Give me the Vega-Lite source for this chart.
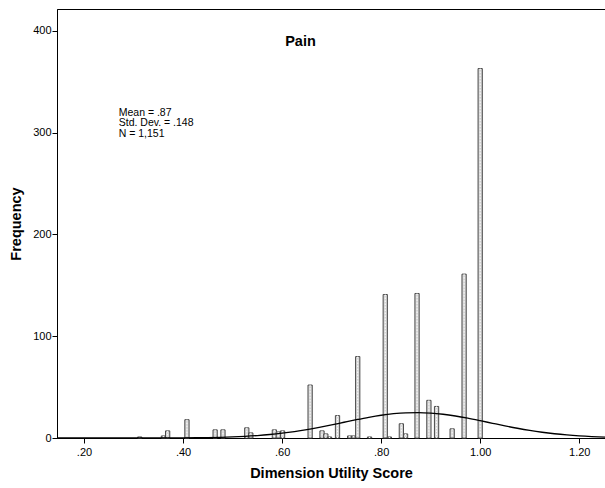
{
  "$schema": "https://vega.github.io/schema/vega-lite/v6.json",
  "width": 548,
  "height": 429,
  "autosize": {"type": "none"},
  "padding": {"left": 57, "top": 9, "right": 0, "bottom": 50},
  "background": "white",
  "config": {
    "font": "Liberation Sans",
    "view": {"stroke": "#000000", "strokeWidth": 1},
    "axis": {"grid": false, "domainColor": "#000000", "tickColor": "#000000", "labelColor": "#000000", "titleColor": "#000000", "labelFont": "Liberation Sans", "titleFont": "Liberation Sans", "labelFontSize": 11, "titleFontSize": 14.5, "titleFontWeight": "bold", "tickSize": 5, "domainWidth": 1, "tickWidth": 1}
  },
  "title": {"text": "Pain", "fontSize": 14.5, "fontWeight": "bold", "font": "Liberation Sans", "color": "#000000", "anchor": "middle", "dx": -30.5, "baseline": "alphabetic", "offset": -51},
  "datasets": {
    "bars": [
      {"x0": 0.3082, "x1": 0.3168, "c": 0.3125, "count": 1},
      {"x0": 0.3561, "x1": 0.3647, "c": 0.3604, "count": 2},
      {"x0": 0.3646, "x1": 0.3732, "c": 0.3689, "count": 7},
      {"x0": 0.4036, "x1": 0.4122, "c": 0.4079, "count": 18},
      {"x0": 0.4605, "x1": 0.4691, "c": 0.4648, "count": 8},
      {"x0": 0.4763, "x1": 0.4849, "c": 0.4806, "count": 8},
      {"x0": 0.5244, "x1": 0.5330, "c": 0.5287, "count": 10},
      {"x0": 0.5325, "x1": 0.5411, "c": 0.5368, "count": 5},
      {"x0": 0.5801, "x1": 0.5887, "c": 0.5844, "count": 8},
      {"x0": 0.5880, "x1": 0.5966, "c": 0.5923, "count": 6},
      {"x0": 0.5967, "x1": 0.6053, "c": 0.6010, "count": 7},
      {"x0": 0.6523, "x1": 0.6609, "c": 0.6566, "count": 52},
      {"x0": 0.6763, "x1": 0.6849, "c": 0.6806, "count": 7},
      {"x0": 0.6840, "x1": 0.6926, "c": 0.6883, "count": 4},
      {"x0": 0.6915, "x1": 0.7001, "c": 0.6958, "count": 1},
      {"x0": 0.7076, "x1": 0.7162, "c": 0.7119, "count": 22},
      {"x0": 0.7321, "x1": 0.7407, "c": 0.7364, "count": 2},
      {"x0": 0.7401, "x1": 0.7487, "c": 0.7444, "count": 2},
      {"x0": 0.7484, "x1": 0.7570, "c": 0.7527, "count": 80},
      {"x0": 0.7723, "x1": 0.7809, "c": 0.7766, "count": 1},
      {"x0": 0.8040, "x1": 0.8126, "c": 0.8083, "count": 141},
      {"x0": 0.8123, "x1": 0.8209, "c": 0.8166, "count": 1},
      {"x0": 0.8365, "x1": 0.8451, "c": 0.8408, "count": 14},
      {"x0": 0.8450, "x1": 0.8536, "c": 0.8493, "count": 4},
      {"x0": 0.8682, "x1": 0.8768, "c": 0.8725, "count": 142},
      {"x0": 0.8921, "x1": 0.9007, "c": 0.8964, "count": 37},
      {"x0": 0.9076, "x1": 0.9162, "c": 0.9119, "count": 31},
      {"x0": 0.9391, "x1": 0.9477, "c": 0.9434, "count": 9},
      {"x0": 0.9632, "x1": 0.9718, "c": 0.9675, "count": 161},
      {"x0": 0.9957, "x1": 1.0043, "c": 1.0, "count": 363}
    ],
    "curve": [
      {"x": 0.145, "y": 0.0002},
      {"x": 0.2, "y": 0.0009},
      {"x": 0.25, "y": 0.004},
      {"x": 0.3, "y": 0.015},
      {"x": 0.35, "y": 0.052},
      {"x": 0.4, "y": 0.161},
      {"x": 0.45, "y": 0.446},
      {"x": 0.475, "y": 0.71},
      {"x": 0.5, "y": 1.098},
      {"x": 0.525, "y": 1.65},
      {"x": 0.55, "y": 2.415},
      {"x": 0.575, "y": 3.43},
      {"x": 0.6, "y": 4.73},
      {"x": 0.625, "y": 6.35},
      {"x": 0.65, "y": 8.28},
      {"x": 0.675, "y": 10.49},
      {"x": 0.7, "y": 12.92},
      {"x": 0.725, "y": 15.47},
      {"x": 0.75, "y": 18.0},
      {"x": 0.775, "y": 20.35},
      {"x": 0.8, "y": 22.36},
      {"x": 0.825, "y": 23.87},
      {"x": 0.85, "y": 24.77},
      {"x": 0.875, "y": 24.99},
      {"x": 0.9, "y": 24.49},
      {"x": 0.925, "y": 23.33},
      {"x": 0.95, "y": 21.6},
      {"x": 0.975, "y": 19.44},
      {"x": 1.0, "y": 17.0},
      {"x": 1.025, "y": 14.45},
      {"x": 1.05, "y": 11.93},
      {"x": 1.075, "y": 9.58},
      {"x": 1.1, "y": 7.47},
      {"x": 1.125, "y": 5.66},
      {"x": 1.15, "y": 4.17},
      {"x": 1.175, "y": 2.99},
      {"x": 1.2, "y": 2.08},
      {"x": 1.225, "y": 1.41},
      {"x": 1.252, "y": 0.9}
    ]
  },
  "layer": [
    {
      "data": {"name": "bars"},
      "mark": {"type": "bar", "fill": "#d6d6d6", "stroke": "#4a4a4a", "strokeWidth": 1},
      "encoding": {
        "x": {"field": "x0", "type": "quantitative", "scale": {"domain": [0.1455, 1.252], "nice": false, "zero": false},
          "axis": {"values": [0.2, 0.4, 0.6, 0.8, 1.0, 1.2], "labelExpr": "replace(format(datum.value, '.2f'), '0.', '.')", "title": "Dimension Utility Score", "labelPadding": 3, "titlePadding": 9}},
        "x2": {"field": "x1"},
        "y": {"field": "count", "type": "quantitative", "scale": {"domain": [0, 421.5], "nice": false},
          "axis": {"values": [0, 100, 200, 300, 400], "title": "Frequency", "labelPadding": 1, "titlePadding": 9}},
        "y2": {"datum": 0}
      }
    },
    {
      "data": {"name": "bars"},
      "mark": {"type": "rule", "color": "#ffffff", "strokeWidth": 1, "strokeDash": [1.5, 1.5]},
      "encoding": {
        "x": {"field": "c", "type": "quantitative"},
        "y": {"field": "count", "type": "quantitative"},
        "y2": {"datum": 0}
      }
    },
    {
      "data": {"name": "curve"},
      "mark": {"type": "line", "color": "#000000", "strokeWidth": 1.3, "interpolate": "monotone", "clip": true},
      "encoding": {
        "x": {"field": "x", "type": "quantitative"},
        "y": {"field": "y", "type": "quantitative"}
      }
    },
    {
      "data": {"values": [{}]},
      "mark": {"type": "text", "text": ["Mean = .87", "Std. Dev. = .148", "N = 1,151"], "align": "left", "baseline": "top", "fontSize": 10.5, "lineHeight": 10.5, "font": "Liberation Sans", "color": "#000000"},
      "encoding": {
        "x": {"datum": 0.2701},
        "y": {"datum": 324.5}
      }
    }
  ]
}
